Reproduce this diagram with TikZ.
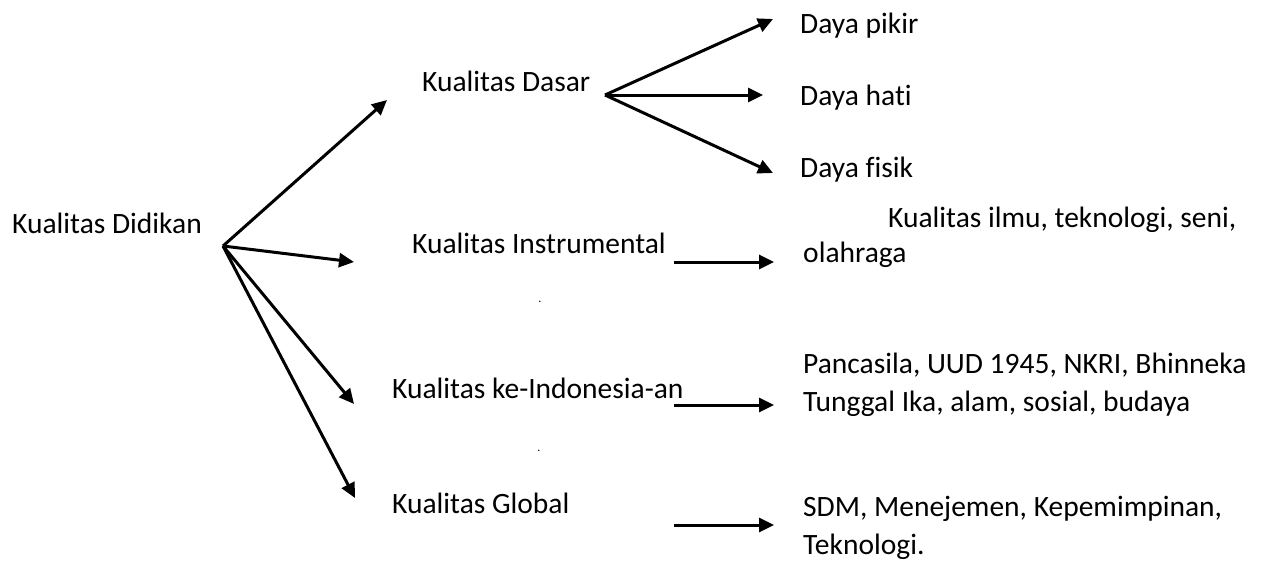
\documentclass[tikz,border=0pt]{standalone}
\usepackage{fontspec}
\setmainfont[Ligatures=NoCommon]{Carlito}
\usepackage{xcolor}
\usepackage{tikz}
\usetikzlibrary{shapes,arrows.meta,positioning,calc}

\tikzset{
  teks/.style={anchor=base west, inner sep=0pt, align=left, font=\fontsize{29.5}{38}\selectfont},
  titik/.style={anchor=base, inner sep=0pt, font=\fontsize{12}{14}\selectfont},
  panah/.style={line width=3pt, -{Triangle[length=15pt,width=14pt]}}
}

\begin{document}
\begin{tikzpicture}[x=1pt,y=-1pt]
\useasboundingbox (0,0) rectangle (1262,560);

% Teks (baris dua: titik dasar baris terakhir)
\node[teks] (didikan) at (12,233) {Kualitas Didikan};
\node[teks] (dasar) at (422,91) {Kualitas Dasar};
\node[teks] (instrumental) at (412,253) {Kualitas Instrumental};
\node[teks] (indonesia) at (392,398) {Kualitas ke-Indonesia-an};
\node[teks] (global) at (392,513) {Kualitas Global};
\node[teks] (pikir) at (800,33) {Daya pikir};
\node[teks] (hati) at (800,105) {Daya hati};
\node[teks] (fisik) at (800,177) {Daya fisik};
\node[teks] (ilmu) at (888,227) {Kualitas ilmu, teknologi, seni,};
\node[teks] (olahraga) at (803,262) {olahraga};
\node[teks] (pancasila) at (803,411) {Pancasila, UUD 1945, NKRI, Bhinneka\\Tunggal Ika, alam, sosial, budaya};
\node[teks] (sdm) at (803,554) {SDM, Menejemen, Kepemimpinan,\\Teknologi.};
\node[titik] (titik1) at (540,302) {.};
\node[titik] (titik2) at (539,451) {.};

% Titik cabang dan ujung panah
\coordinate (pusat) at (223,246);
\coordinate (cabang) at (605,95);
\coordinate (keDasar) at (387,100);
\coordinate (keInstr) at (354,262);
\coordinate (keIndo) at (354,404);
\coordinate (keGlobal) at (355,498);
\coordinate (kePikir) at (773,19);
\coordinate (keHati) at (763,95);
\coordinate (keFisik) at (773,173);
\coordinate (dariInstr) at (674,262);
\coordinate (keIlmu) at (774,262);
\coordinate (dariIndo) at (674,405);
\coordinate (kePanca) at (774,405);
\coordinate (dariGlobal) at (674,525);
\coordinate (keSdm) at (774,525);

% Panah
\draw[panah] (pusat) -- (keDasar);
\draw[panah] (pusat) -- (keInstr);
\draw[panah] (pusat) -- (keIndo);
\draw[panah] (pusat) -- (keGlobal);
\draw[panah] (cabang) -- (kePikir);
\draw[panah] (cabang) -- (keHati);
\draw[panah] (cabang) -- (keFisik);
\draw[panah] (dariInstr) -- (keIlmu);
\draw[panah] (dariIndo) -- (kePanca);
\draw[panah] (dariGlobal) -- (keSdm);
\end{tikzpicture}
\end{document}
